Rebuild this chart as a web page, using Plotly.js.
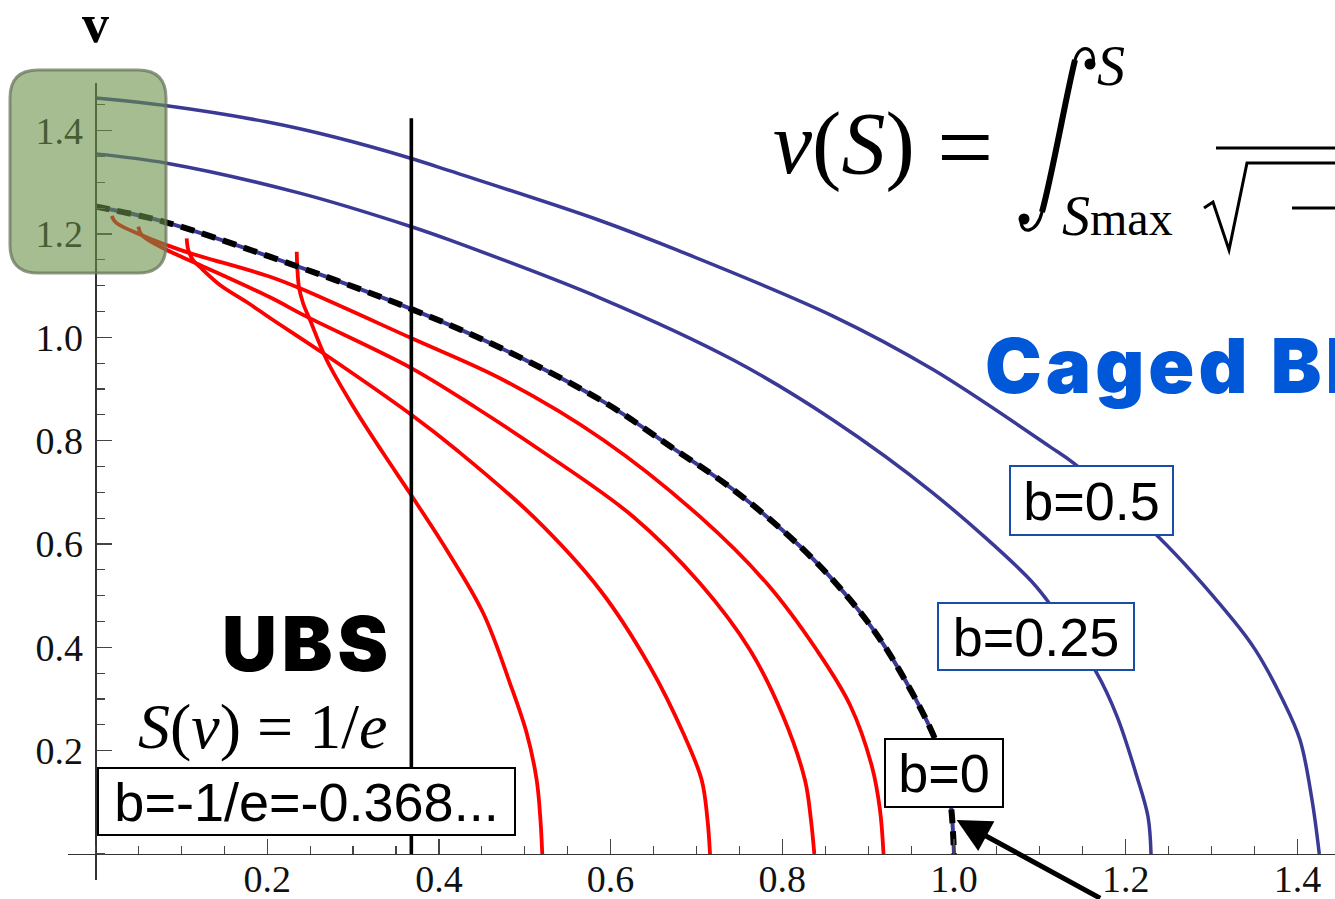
<!DOCTYPE html>
<html>
<head>
<meta charset="utf-8">
<script src="https://cdn.plot.ly/plotly-3.0.1.min.js"></script>
<style>
  html, body { margin: 0; padding: 0; background: #fff; }
  #chart { width: 1335px; height: 899px; }
</style>
</head>
<body>
<div id="chart"></div>
<script>
// ---- curve samples: S (horizontal) and v (vertical) ----
// caged branch, b = 0.5
const cagedHalfS = [0, 0.083, 0.199, 0.277, 0.368, 0.413, 0.586, 0.677, 0.859, 0.976, 1.112, 1.139, 1.238, 1.325, 1.351, 1.383, 1.403, 1.417, 1.4255];
const cagedHalfV = [1.463, 1.448, 1.417, 1.388, 1.346, 1.322, 1.227, 1.169, 1.041, 0.937, 0.788, 0.757, 0.614, 0.453, 0.395, 0.298, 0.221, 0.105, 0];
// caged branch, b = 0.25
const cagedQuarterS = [0, 0.083, 0.238, 0.368, 0.413, 0.588, 0.743, 0.859, 0.976, 1.085, 1.108, 1.166, 1.190, 1.213, 1.226, 1.2295];
const cagedQuarterV = [1.355, 1.337, 1.279, 1.214, 1.188, 1.076, 0.956, 0.840, 0.698, 0.537, 0.492, 0.351, 0.266, 0.150, 0.072, 0];
// boundary curve, b = 0
const zeroS = [0, 0.079, 0.203, 0.366, 0.475, 0.592, 0.673, 0.743, 0.821, 0.879, 0.922, 0.976, 0.991, 0.997, 1.0];
const zeroV = [1.253, 1.224, 1.156, 1.056, 0.977, 0.875, 0.785, 0.705, 0.595, 0.492, 0.395, 0.230, 0.153, 0.085, 0];
// unbounded branch, -1/e < b < 0 (four members, outermost first)
const ubs1S = [0.0189, 0.0239, 0.0596, 0.0829, 0.110, 0.2033, 0.2382, 0.3683, 0.475, 0.5915, 0.7041, 0.7818, 0.8401, 0.8789, 0.9045, 0.9138, 0.9179];
const ubs1V = [1.2348, 1.2218, 1.1935, 1.1786, 1.163, 1.1173, 1.0948, 0.998, 0.9174, 0.8012, 0.6528, 0.5239, 0.3948, 0.2884, 0.169, 0.0852, 0];
const ubs2S = [0.0499, 0.0538, 0.0790, 0.1217, 0.2033, 0.2460, 0.3683, 0.4420, 0.5178, 0.6264, 0.7041, 0.7624, 0.8012, 0.8264, 0.8334, 0.8373];
const ubs2V = [1.2141, 1.1980, 1.1723, 1.1400, 1.0774, 1.0399, 0.9400, 0.8651, 0.7819, 0.6528, 0.5239, 0.3948, 0.2657, 0.1432, 0.0658, 0];
const ubs3S = [0.1062, 0.1081, 0.1136, 0.1217, 0.1450, 0.1761, 0.2033, 0.2653, 0.3683, 0.4207, 0.5100, 0.5877, 0.6459, 0.6847, 0.7061, 0.7129, 0.7158];
const ubs3V = [1.1916, 1.1690, 1.1496, 1.1361, 1.1013, 1.0683, 1.0374, 0.9691, 0.8496, 0.7819, 0.6528, 0.5109, 0.3625, 0.2336, 0.1432, 0.0658, 0];
const ubs4S = [0.2344, 0.2351, 0.2370, 0.2417, 0.2499, 0.2693, 0.3003, 0.3352, 0.3663, 0.4091, 0.4517, 0.4828, 0.5023, 0.5139, 0.5183, 0.5204];
const ubs4V = [1.1657, 1.1341, 1.0974, 1.0664, 1.0335, 0.9561, 0.8657, 0.7755, 0.6981, 0.5884, 0.4659, 0.3304, 0.2336, 0.1432, 0.0658, 0];
// S = 1/e marker line
const invES = [0.3679, 0.3679];
const invEV = [0, 1.424];

// ---- ticks ----
const xTickVals = [0.2, 0.4, 0.6, 0.8, 1.0, 1.2, 1.4];
const xTickText = ['0.2', '0.4', '0.6', '0.8', '1.0', '1.2', '1.4'];
const yTickVals = [0.2, 0.4, 0.6, 0.8, 1.0, 1.2, 1.4];
const yTickText = ['0.2', '0.4', '0.6', '0.8', '1.0', '1.2', '1.4'];

// ---- figure geometry (pixels) ----
const FIG_W = 1335, FIG_H = 899;
const M = {l: 68, r: 0, t: 83, b: 19};
const PLOT_W = FIG_W - M.l - M.r, PLOT_H = FIG_H - M.t - M.b;
const X_RANGE = [-0.03203, 1.44380];
const Y_RANGE = [-0.05032, 1.49216];
// pixel -> paper fraction helpers for decorations
const PX = p => (p - M.l) / PLOT_W;
const PY = p => (FIG_H - M.b - p) / PLOT_H;

const BLUE = '#3a3a96';
const RED = '#ff0000';

function curve(x, y, color, width, dash) {
  return {
    type: 'scatter', mode: 'lines', x: x, y: y,
    line: {color: color, width: width, shape: 'spline', smoothing: 1, dash: dash || 'solid'},
    hoverinfo: 'skip', cliponaxis: false
  };
}

const traces = [
  curve(cagedHalfS, cagedHalfV, BLUE, 3.5),
  curve(cagedQuarterS, cagedQuarterV, BLUE, 3.5),
  curve(ubs1S, ubs1V, RED, 3.8),
  curve(ubs2S, ubs2V, RED, 3.8),
  curve(ubs3S, ubs3V, RED, 3.8),
  curve(ubs4S, ubs4V, RED, 3.8),
  curve(zeroS, zeroV, BLUE, 4),
  curve(zeroS, zeroV, '#000', 6, '14px,8px'),
  {type: 'scatter', mode: 'lines', x: invES, y: invEV, line: {color: '#000', width: 3.6}, hoverinfo: 'skip'}
];

// rounded rectangle (pixel box) as a paper-space path
function roundRect(x0, y0, x1, y1, r) {
  const P = (x, y) => PX(x).toFixed(5) + ',' + PY(y).toFixed(5);
  return 'M' + P(x0 + r, y0) + ' L' + P(x1 - r, y0) + ' Q' + P(x1, y0) + ' ' + P(x1, y0 + r) +
         ' L' + P(x1, y1 - r) + ' Q' + P(x1, y1) + ' ' + P(x1 - r, y1) +
         ' L' + P(x0 + r, y1) + ' Q' + P(x0, y1) + ' ' + P(x0, y1 - r) +
         ' L' + P(x0, y0 + r) + ' Q' + P(x0, y0) + ' ' + P(x0 + r, y0) + ' Z';
}
// generic pixel-space path: commands with pixel coordinate pairs
function pixPath(cmds) {
  return cmds.map(c => c[0] + c.slice(1).map(p => PX(p[0]).toFixed(5) + ',' + PY(p[1]).toFixed(5)).join(' ')).join(' ');
}
function dot(cx, cy, r) {
  return {type: 'circle', xref: 'paper', yref: 'paper', x0: PX(cx - r), x1: PX(cx + r), y0: PY(cy + r), y1: PY(cy - r),
          fillcolor: '#000', line: {width: 0}};
}

const shapes = [
  {type: 'path', xref: 'paper', yref: 'paper', path: roundRect(10, 70, 166, 273, 28),
   fillcolor: 'rgba(105,145,72,0.6)', line: {color: 'rgba(105,118,92,0.75)', width: 3}, layer: 'above'},
  // integral sign of the formula: thin hooks ...
  {type: 'path', xref: 'paper', yref: 'paper',
   path: pixPath([['M', [1093, 64]], ['C', [1096, 47], [1080, 42], [1075, 60]],
                  ['C', [1066, 96], [1052, 176], [1042, 212]], ['C', [1037, 233], [1021, 236], [1021, 220]]]),
   line: {color: '#000', width: 3.2}},
  // ... and a heavier stem along the same curve
  {type: 'path', xref: 'paper', yref: 'paper',
   path: pixPath([['M', [1075, 60]], ['C', [1066, 96], [1052, 176], [1042, 212]]]),
   line: {color: '#000', width: 6}},
  dot(1090, 64, 5.5), dot(1024, 219, 5.5),
  // fraction bar
  {type: 'line', xref: 'paper', yref: 'paper', x0: PX(1216), x1: PX(1345), y0: PY(148), y1: PY(148),
   line: {color: '#000', width: 3}},
  // radical sign
  {type: 'path', xref: 'paper', yref: 'paper',
   path: pixPath([['M', [1204, 208]], ['L', [1213, 202]], ['L', [1229, 250]], ['L', [1247, 163]], ['L', [1345, 163]]]),
   line: {color: '#000', width: 3}},
  {type: 'line', xref: 'paper', yref: 'paper', x0: PX(1292), x1: PX(1345), y0: PY(208), y1: PY(208),
   line: {color: '#000', width: 3}}
];

const serif = 'Liberation Serif, Times New Roman, serif';
const sans = 'Liberation Sans, Arial, sans-serif';
const heavy = 'Inter, Roboto, Liberation Sans, sans-serif';

function boxLabel(text, cx, cy, w, h, border) {
  return {
    xref: 'paper', yref: 'paper', x: PX(cx), y: PY(cy), xanchor: 'center', yanchor: 'middle',
    text: text, showarrow: false, width: w - 4, height: h - 4, align: 'center', valign: 'middle',
    bgcolor: '#fff', bordercolor: border, borderwidth: 2, borderpad: 0,
    font: {family: sans, size: 54, color: '#000'}
  };
}
function txt(text, x, y, xanchor, font) {
  return {xref: 'paper', yref: 'paper', x: PX(x), y: PY(y), xanchor: xanchor, yanchor: 'middle',
          text: text, showarrow: false, font: font};
}

const annotations = [
  txt('<b>v</b>', 95, 24, 'center', {family: serif, size: 54, color: '#000'}),
  txt('<span style="letter-spacing:5px">UBS</span>', 395, 643, 'right', {family: heavy, size: 76, color: '#000', weight: 900}),
  txt('<i>S</i>(<i>v</i>) = 1/<i>e</i>', 389, 726, 'right', {family: serif, size: 64, color: '#000'}),
  txt('<span style="letter-spacing:4px">Caged BH</span>', 983, 365, 'left', {family: heavy, size: 76, color: '#0057d8', weight: 900}),
  txt('<i>v</i>(<i>S</i>)', 771, 143, 'left', {family: serif, size: 88, color: '#000'}),
  txt('=', 965, 147, 'center', {family: serif, size: 100, color: '#000'}),
  txt('<i>S</i>', 1111, 66, 'center', {family: serif, size: 56, color: '#000'}),
  txt('<i>S</i><span style="font-size:48px">max</span>', 1060, 216, 'left', {family: serif, size: 56, color: '#000'}),
  boxLabel('b=0.5', 1091.5, 500.5, 165, 71, '#1a4da8'),
  boxLabel('b=0.25', 1036, 636.5, 198, 69, '#1a4da8'),
  boxLabel('b=0', 944, 773, 120, 70, '#000'),
  boxLabel('b=-1/e=-0.368...', 306.5, 801.5, 419, 69, '#000'),
  {xref: 'x', yref: 'y', x: 1.0031, y: 0.0658, ax: 145, ay: 88, text: '', showarrow: true,
   arrowhead: 2, arrowsize: 1.35, arrowwidth: 5, arrowcolor: '#000'}
];

const axisCommon = {
  showgrid: false, zeroline: false, showline: true, linecolor: '#333', linewidth: 1.3,
  anchor: 'free', tickmode: 'array', ticks: 'inside', ticklen: 15, tickwidth: 1.3, tickcolor: '#444',
  minor: {tickmode: 'linear', tick0: 0, dtick: 0.05, ticks: 'inside', ticklen: 8, tickwidth: 1.1, tickcolor: '#444'},
  tickfont: {family: serif, size: 38, color: '#111'},
  fixedrange: true, automargin: false
};

const layout = {
  width: FIG_W, height: FIG_H,
  margin: {l: M.l, r: M.r, t: M.t, b: M.b, pad: 0},
  paper_bgcolor: '#fff', plot_bgcolor: '#fff', showlegend: false,
  xaxis: Object.assign({}, axisCommon, {
    range: X_RANGE, tickvals: xTickVals, ticktext: xTickText,
    position: (0 - Y_RANGE[0]) / (Y_RANGE[1] - Y_RANGE[0]), ticklabelstandoff: -9
  }),
  yaxis: Object.assign({}, axisCommon, {
    range: Y_RANGE, tickvals: yTickVals, ticktext: yTickText,
    position: (0 - X_RANGE[0]) / (X_RANGE[1] - X_RANGE[0]), ticklabelstandoff: 5
  }),
  shapes: shapes,
  annotations: annotations
};

Plotly.newPlot('chart', traces, layout, {staticPlot: true, displayModeBar: false});
</script>
</body>
</html>
